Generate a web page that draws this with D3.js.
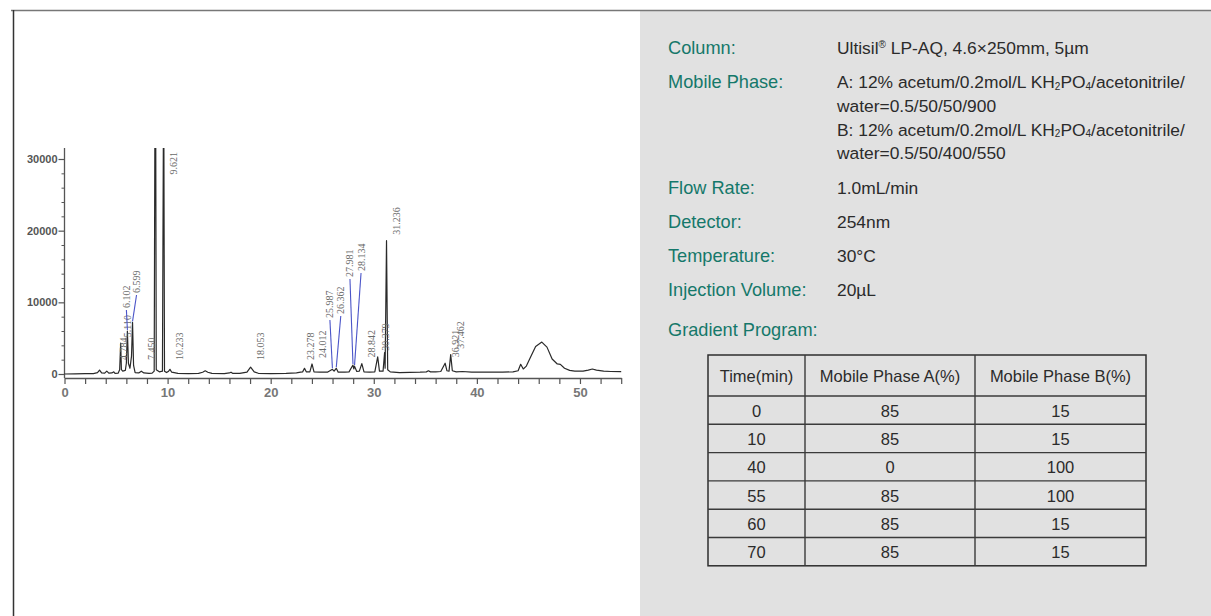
<!DOCTYPE html>
<html><head><meta charset="utf-8">
<script src="https://cdn.jsdelivr.net/npm/d3@7"></script>
<style>body{margin:0;background:#fff}svg{display:block}</style>
</head><body>
<svg id="c" width="1211" height="616"></svg>
<script>
// ---------- data ----------
const traceTime = [0,1.0,2.0,2.8,3.2,3.4,3.6,3.9,4.1,4.3,4.6,4.78,4.9,5.2,5.35,5.45,5.52,5.65,5.9,6.0,6.1,6.2,6.35,6.5,6.6,6.7,6.85,7.2,7.45,7.7,8.2,8.5,8.7,8.78,8.84,8.9,9.2,9.5,9.61,9.625,9.7,9.9,10.1,10.23,10.4,11,12,13.0,13.4,13.65,13.9,14.3,15.5,16.0,16.15,16.3,17.0,17.7,18.05,18.4,18.8,20,21.5,22.5,22.9,23.1,23.28,23.45,23.8,24.01,24.2,24.8,25.5,25.99,26.15,26.36,26.55,27.2,27.6,27.98,28.06,28.13,28.35,28.6,28.84,29.05,29.6,30.1,30.38,30.55,30.9,31.05,31.1,31.236,31.35,31.6,32.5,33.5,34.5,35.1,35.3,35.5,36.0,36.5,36.92,37.1,37.3,37.46,37.62,38.0,38.6,39.5,40.5,41.5,42.5,43.5,44.0,44.25,44.5,44.8,45.2,45.7,46.3,46.8,47.3,47.8,48.1,48.5,49.0,49.5,50.3,50.8,51.2,51.6,52.3,53.0,54.0];
const traceSignal = [0,30,50,60,200,550,150,120,400,120,150,300,100,120,600,4300,600,400,500,1500,6000,1500,800,2500,7200,1200,200,150,400,150,100,120,400,40000,40000,600,300,400,40000,40000,400,200,400,650,250,80,60,80,250,450,250,80,60,150,250,100,80,250,950,300,100,60,80,150,250,300,800,300,300,1400,300,250,250,650,400,800,250,250,300,1250,700,1100,350,400,1450,300,250,300,2400,400,400,3000,800,18600,600,300,200,220,250,300,450,300,300,350,1500,450,400,2700,450,300,350,250,250,280,250,300,450,1350,700,1100,2350,3850,4450,3750,2100,1400,1350,800,500,400,400,550,700,550,400,350,320];

const peakTimes   = [4.784, 5.110, 6.102, 6.599, 7.450, 9.621, 10.233, 18.053, 23.278, 24.012, 25.987, 26.362, 27.981, 28.134, 28.842, 30.379, 31.236, 36.921, 37.462];
const peakHeights = [300, 4300, 6000, 7200, 400, 40000, 650, 950, 800, 1400, 650, 800, 1250, 1100, 1450, 2400, 18600, 1500, 2700];
const peakLabels  = ["4.784","5.110","6.102","6.599","7.450","9.621","10.233","18.053","23.278","24.012","25.987","26.362","27.981","28.134","28.842","30.379","31.236","36.921","37.462"];

const xTicksMajor = [0, 10, 20, 30, 40, 50];
const yTicksMajor = [0, 10000, 20000, 30000];

const conditionLabels = ["Column:", "Mobile Phase:", "Flow Rate:", "Detector:", "Temperature:", "Injection Volume:", "Gradient Program:"];
const conditionValues = [
  ["Ultisil^® LP-AQ, 4.6×250mm, 5µm"],
  ["A: 12% acetum/0.2mol/L KH_2PO_4/acetonitrile/", "water=0.5/50/50/900", "B: 12% acetum/0.2mol/L KH_2PO_4/acetonitrile/", "water=0.5/50/400/550"],
  ["1.0mL/min"], ["254nm"], ["30°C"], ["20µL"], []
];

const gradientHeader = ["Time(min)", "Mobile Phase A(%)", "Mobile Phase B(%)"];
const gradientTime = [0, 10, 40, 55, 60, 70];
const gradientA = [85, 85, 0, 85, 85, 85];
const gradientB = [15, 15, 100, 100, 15, 15];

// ---------- layout ----------
const svg = d3.select("#c");
svg.append("rect").attr("x", 640).attr("y", 11).attr("width", 571).attr("height", 605).attr("fill", "#e1e1e1");
svg.append("line").attr("x1", 11).attr("x2", 1211).attr("y1", 10.5).attr("y2", 10.5).attr("stroke", "#777").attr("stroke-width", 1.4);
svg.append("line").attr("x1", 13.5).attr("x2", 13.5).attr("y1", 10).attr("y2", 616).attr("stroke", "#333").attr("stroke-width", 1.5);

// ---------- chromatogram ----------
const x = d3.scaleLinear().domain([0, 54]).range([64.5, 621.2]);
const y = d3.scaleLinear().domain([0, 30000]).range([374, 159]);
const plotTop = 148, axisY = 378;

svg.append("defs").append("clipPath").attr("id", "clip")
  .append("rect").attr("x", 55).attr("y", plotTop).attr("width", 580).attr("height", axisY - plotTop);

const axisColor = "#555";
const gx = svg.append("g").attr("transform", `translate(0,${axisY})`)
  .call(d3.axisBottom(x).tickValues(d3.range(0, 55, 2)).tickSize(6).tickSizeOuter(0)
    .tickPadding(4).tickFormat(d => xTicksMajor.includes(d) ? d : ""));
gx.select(".domain").attr("stroke", axisColor).attr("stroke-width", 1.3);
gx.selectAll(".tick line").attr("stroke", axisColor).attr("stroke-width", 1.2);
gx.selectAll(".tick text").attr("font-family", "Liberation Sans, Arial, sans-serif").attr("font-weight", "bold")
  .attr("font-size", 13).attr("fill", "#777");

svg.append("line").attr("x1", 64.5).attr("x2", 64.5).attr("y1", plotTop).attr("y2", axisY)
  .attr("stroke", axisColor).attr("stroke-width", 1.3);
const gyMinor = svg.append("g").attr("transform", "translate(64.5,0)")
  .call(d3.axisLeft(y).tickValues(d3.range(0, 31000, 2000).filter(v => !yTicksMajor.includes(v))).tickSize(3).tickFormat(""));
gyMinor.select(".domain").remove();
gyMinor.selectAll(".tick line").attr("stroke", axisColor);
const gy = svg.append("g").attr("transform", "translate(64.5,0)")
  .call(d3.axisLeft(y).tickValues(yTicksMajor).tickSize(6).tickPadding(1).tickFormat(d3.format("d")));
gy.select(".domain").remove();
gy.selectAll(".tick line").attr("stroke", axisColor).attr("stroke-width", 1.2);
gy.selectAll(".tick text").attr("font-family", "Liberation Sans, Arial, sans-serif").attr("font-weight", "bold")
  .attr("font-size", 11).attr("fill", "#555");

const trace = traceTime.map((t, i) => [t, traceSignal[i]]);
svg.append("path").attr("clip-path", "url(#clip)")
  .attr("d", d3.line().x(d => x(d[0])).y(d => y(d[1]))(trace))
  .attr("fill", "none").attr("stroke", "#2a2a2a").attr("stroke-width", 1.2).attr("stroke-linejoin", "round");

const leaderLayout = {
  "6.102": {dx: -1, bottom: 308}, "6.599": {dx: 4, bottom: 293},
  "25.987": {dx: -2.5, bottom: 318}, "26.362": {dx: 4.5, bottom: 314},
  "27.981": {dx: -3, bottom: 277}, "28.134": {dx: 6.5, bottom: 271}
};
const labelNudge = {"23.278": -4, "30.379": -2};
const gl = svg.append("g");
peakTimes.forEach((t, i) => {
  const lab = peakLabels[i];
  const px = x(t), py = Math.max(y(peakHeights[i]), plotTop);
  let lx, ly, anchor = "start";
  if (leaderLayout[lab]) {
    lx = px + leaderLayout[lab].dx; ly = leaderLayout[lab].bottom;
    gl.append("line").attr("x1", lx).attr("y1", ly + 2).attr("x2", px).attr("y2", py - 1)
      .attr("stroke", "#4b55c8").attr("stroke-width", 1.1);
  } else if (y(peakHeights[i]) < plotTop) {
    lx = px + 10; ly = plotTop + 4; anchor = "end";
  } else {
    lx = px + 10 + (labelNudge[lab] || 0); ly = Math.min(py - 6, 360);
  }
  gl.append("text").attr("transform", `translate(${lx},${ly}) rotate(-90)`)
    .attr("text-anchor", anchor).attr("dy", "0.35em")
    .attr("font-family", "Liberation Serif, Times New Roman, serif").attr("font-size", 10)
    .attr("fill", "#6a6a6a").text(lab);
});

// ---------- conditions text ----------
function rich(sel, str) {
  const parts = str.split(/([_^].)/);
  let shift = 0;
  parts.forEach(p => {
    if (!p) return;
    if (p.length === 2 && p[0] === "_") {
      sel.append("tspan").attr("font-size", 10).attr("dy", 1.5 - shift).text(p[1]); shift = 1.5;
    } else if (p.length === 2 && p[0] === "^") {
      sel.append("tspan").attr("font-size", 10).attr("dy", -6 - shift).text(p[1]); shift = -6;
    } else {
      sel.append("tspan").attr("dy", -shift).text(p); shift = 0;
    }
  });
}
const gt = svg.append("g").attr("font-family", "Liberation Sans, Arial, sans-serif");
let base = 54;
conditionLabels.forEach((lab, i) => {
  if (i === conditionLabels.length - 1) base += 6;
  gt.append("text").attr("x", 668).attr("y", base).attr("font-size", 18.2).attr("fill", "#15786a").text(lab);
  const vals = conditionValues[i];
  vals.forEach((v, j) => {
    const t = gt.append("text").attr("x", 837).attr("y", base + j * 23.7).attr("font-size", 17.4).attr("fill", "#2b2b2b");
    rich(t, v);
  });
  base += Math.max(vals.length - 1, 0) * 23.7 + 34.2;
});

// ---------- gradient table ----------
const colX = [708, 805, 975, 1146];
const headTop = 355, headH = 41, rowH = 28.3;
const nRows = gradientTime.length;
const tableBottom = headTop + headH + nRows * rowH;
const gtab = svg.append("g").attr("font-family", "Liberation Sans, Arial, sans-serif").attr("font-size", 16.5).attr("fill", "#2b2b2b");
gtab.append("rect").attr("x", colX[0]).attr("y", headTop).attr("width", colX[3] - colX[0]).attr("height", tableBottom - headTop)
  .attr("fill", "none").attr("stroke", "#2e2e2e").attr("stroke-width", 1.5);
[1, 2].forEach(k => gtab.append("line").attr("x1", colX[k]).attr("x2", colX[k]).attr("y1", headTop).attr("y2", tableBottom)
  .attr("stroke", "#3a3a3a").attr("stroke-width", 1.4));
for (let r = 0; r < nRows; r++) {
  const yy = headTop + headH + r * rowH;
  gtab.append("line").attr("x1", colX[0]).attr("x2", colX[3]).attr("y1", yy).attr("y2", yy)
    .attr("stroke", "#3a3a3a").attr("stroke-width", 1.4);
}
const colMid = k => (colX[k] + colX[k + 1]) / 2;
gradientHeader.forEach((h, k) => gtab.append("text").attr("x", colMid(k)).attr("y", headTop + headH / 2 + 6.5)
  .attr("text-anchor", "middle").text(h));
gradientTime.forEach((t, r) => {
  const cy = headTop + headH + r * rowH + rowH / 2 + 6.5;
  [t, gradientA[r], gradientB[r]].forEach((v, k) =>
    gtab.append("text").attr("x", colMid(k)).attr("y", cy).attr("text-anchor", "middle").text(v));
});
</script>
</body></html>
